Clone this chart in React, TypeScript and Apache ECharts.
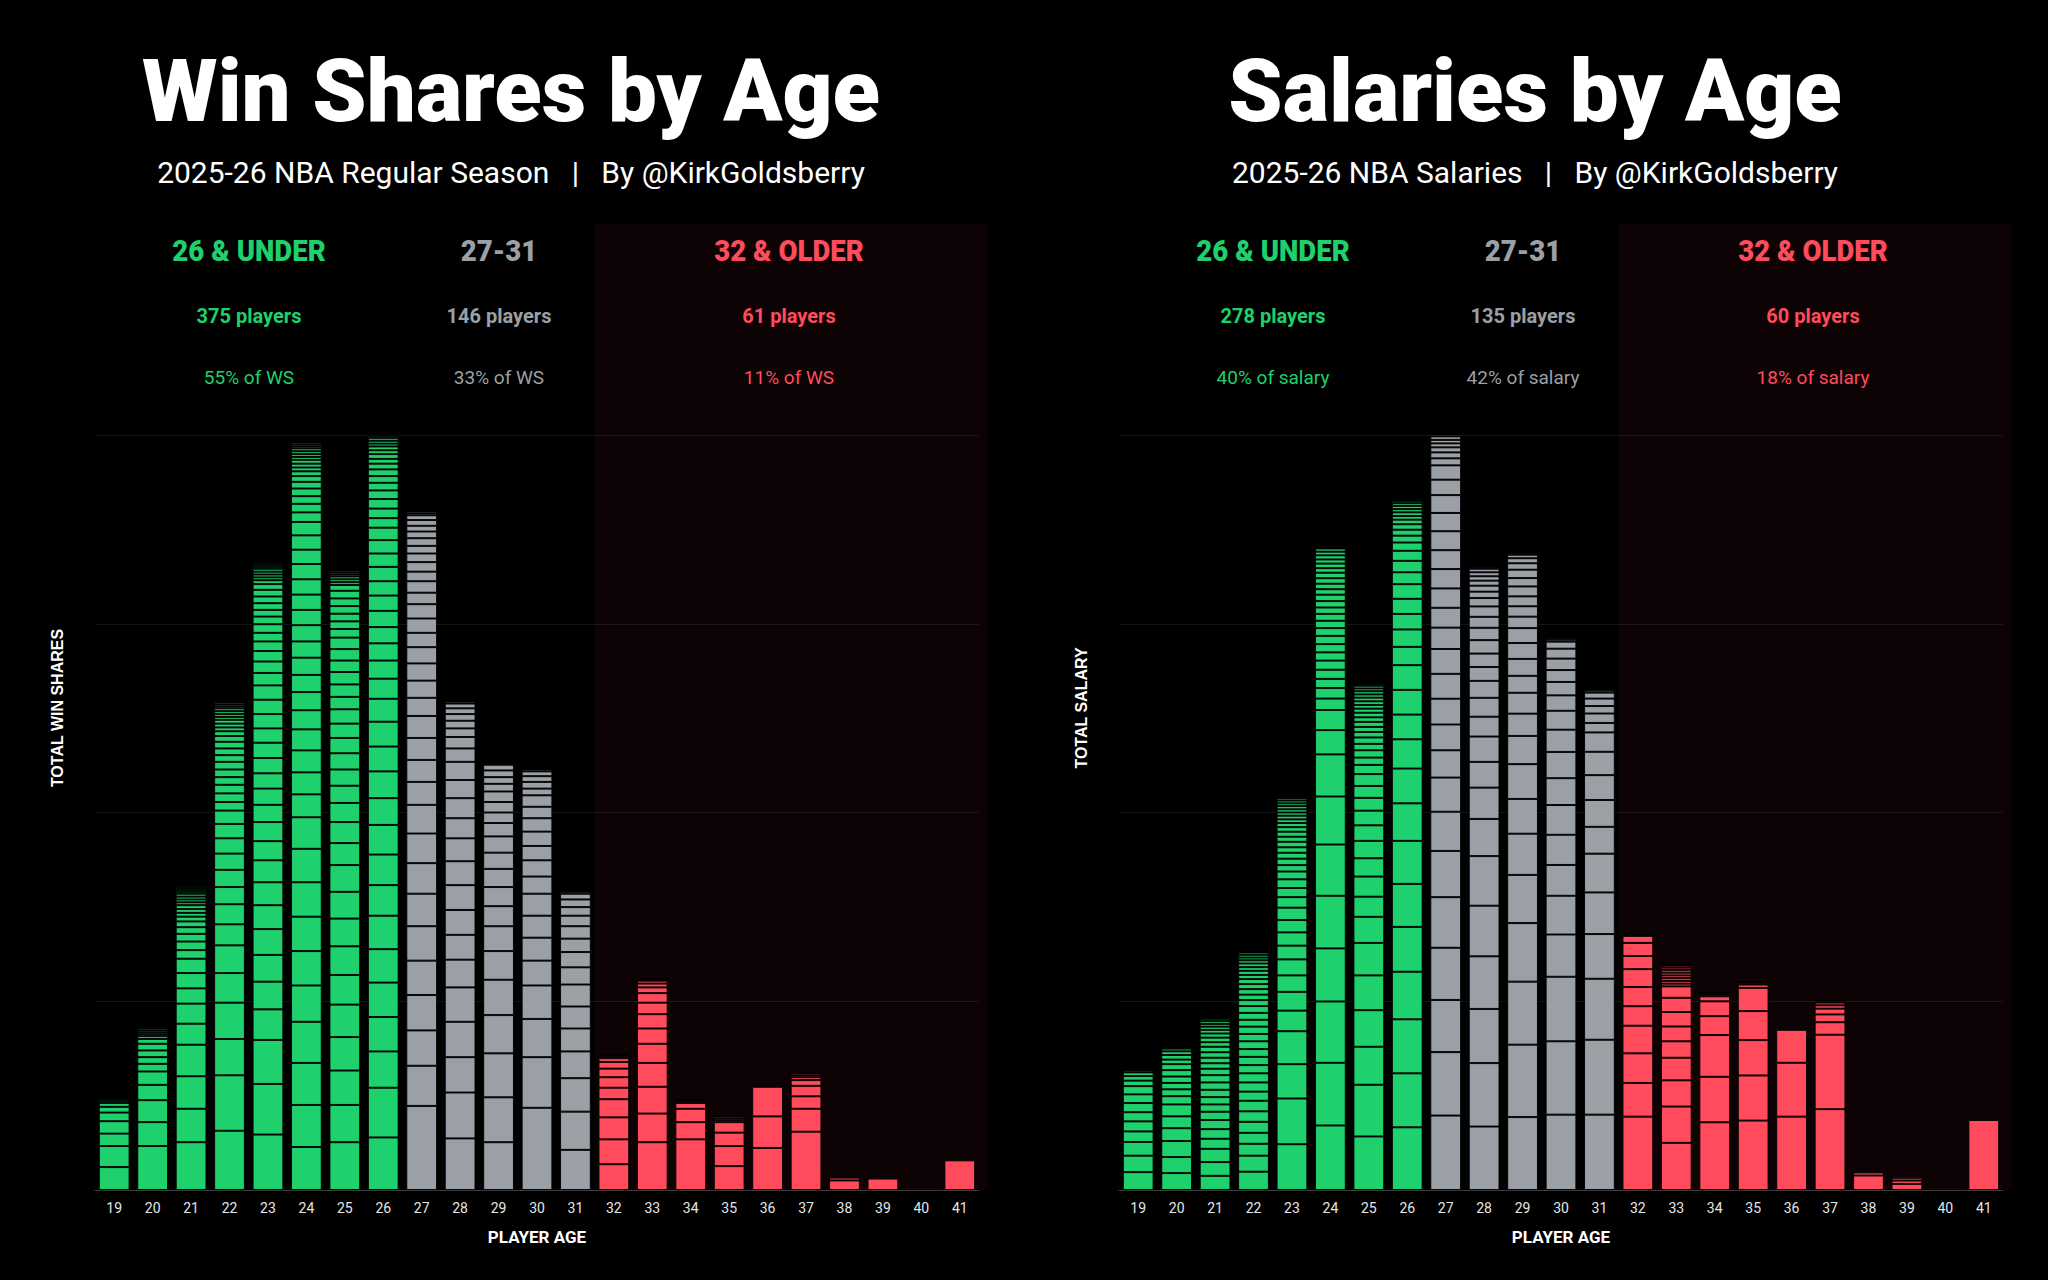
import React, { useEffect, useRef } from 'react';
import * as echarts from 'echarts';

const ages = ['19', '20', '21', '22', '23', '24', '25', '26', '27', '28', '29', '30', '31', '32', '33', '34', '35', '36', '37', '38', '39', '40', '41'];

// win shares of each player, by age, largest first
const ws19 = [2.4, 2.2, 1.3, 1.3, 0.9, 0.6, 0.4, 0.2, 0.2, 0.1, 0.1];
const ws20 = [4.6, 2.5, 2.3, 1.6, 1.4, 0.8, 0.7, 0.7, 0.7, 0.5, 0.3, 0.2, 0.2, 0.2, 0.2, 0.1, 0.1, 0.1];
const ws21 = [5.0, 3.5, 3.4, 3.3, 2.2, 2.1, 1.6, 1.6, 1.5, 0.9, 0.9, 0.8, 0.7, 0.6, 0.5, 0.4, 0.4, 0.4, 0.3, 0.3, 0.3, 0.3, 0.2, 0.2, 0.2, 0.2, 0.1, 0.1, 0.1];
const ws22 = [6.2, 5.8, 3.8, 3.8, 3.1, 2.9, 2.2, 2.1, 1.8, 1.8, 1.7, 1.6, 1.5, 1.4, 0.9, 0.9, 0.9, 0.8, 0.8, 0.8, 0.7, 0.7, 0.7, 0.6, 0.5, 0.4, 0.4, 0.4, 0.3, 0.3, 0.3, 0.3, 0.2, 0.2, 0.2, 0.1, 0.1, 0.1];
const ws23 = [5.8, 5.3, 4.6, 3.2, 2.9, 2.8, 2.7, 2.5, 2.4, 2.3, 2.0, 2.0, 1.8, 1.7, 1.6, 1.6, 1.6, 1.5, 1.5, 1.5, 1.5, 1.3, 1.2, 1.1, 1.0, 0.9, 0.9, 0.8, 0.7, 0.7, 0.7, 0.7, 0.6, 0.4, 0.3, 0.3, 0.3, 0.3, 0.2, 0.2, 0.2, 0.1, 0.1, 0.1];
const ws24 = [4.5, 4.4, 4.4, 4.3, 3.8, 3.6, 3.6, 3.6, 3.5, 3.3, 2.4, 2.3, 2.3, 2.2, 2.0, 1.9, 1.8, 1.8, 1.7, 1.7, 1.6, 1.6, 1.6, 1.6, 1.5, 1.5, 1.4, 1.0, 0.9, 0.8, 0.8, 0.7, 0.6, 0.5, 0.4, 0.4, 0.4, 0.3, 0.3, 0.3, 0.3, 0.2, 0.2, 0.2, 0.1, 0.1, 0.1];
const ws25 = [5.0, 3.9, 3.6, 3.5, 3.4, 3.1, 3.0, 2.9, 2.8, 2.8, 2.3, 2.2, 2.0, 1.8, 1.7, 1.7, 1.6, 1.5, 1.5, 1.3, 1.3, 1.3, 1.2, 1.2, 1.2, 0.9, 0.8, 0.8, 0.8, 0.8, 0.8, 0.6, 0.3, 0.3, 0.3, 0.2, 0.2, 0.2, 0.1, 0.1, 0.1, 0.1];
const ws26 = [5.5, 5.2, 3.8, 3.6, 3.6, 3.5, 3.5, 3.2, 3.2, 3.1, 2.8, 2.8, 2.6, 2.6, 2.4, 2.1, 1.9, 1.8, 1.7, 1.7, 1.6, 1.5, 1.5, 1.4, 1.4, 1.3, 1.0, 1.0, 1.0, 0.9, 0.8, 0.7, 0.7, 0.6, 0.5, 0.5, 0.4, 0.4, 0.3, 0.3, 0.3, 0.2, 0.2, 0.2, 0.1, 0.1, 0.1];
const ws27 = [8.8, 4.2, 3.7, 3.7, 3.6, 3.6, 3.4, 3.2, 3.1, 3.0, 2.4, 2.3, 2.3, 2.3, 1.9, 1.8, 1.8, 1.7, 1.5, 1.5, 1.5, 1.2, 1.2, 1.0, 1.0, 0.9, 0.8, 0.8, 0.7, 0.6, 0.6, 0.5, 0.2, 0.2, 0.1, 0.1, 0.1, 0.1, 0.1];
const ws28 = [5.4, 4.8, 3.7, 3.7, 3.6, 2.9, 2.6, 2.6, 2.6, 2.5, 2.4, 2.1, 2.1, 1.9, 1.9, 1.4, 1.2, 0.9, 0.8, 0.7, 0.6, 0.5, 0.2, 0.1, 0.1, 0.1, 0.1];
const ws29 = [5.0, 4.7, 4.6, 4.0, 3.7, 3.0, 2.6, 2.1, 2.0, 1.9, 1.7, 1.7, 1.4, 1.1, 1.1, 1.1, 0.8, 0.7, 0.7, 0.6, 0.1, 0.1, 0.1, 0.1];
const ws30 = [8.6, 5.3, 4.0, 3.5, 2.6, 2.4, 2.3, 2.3, 1.8, 1.7, 1.5, 1.5, 1.4, 1.2, 1.2, 0.7, 0.7, 0.6, 0.5, 0.2, 0.1, 0.1, 0.1];
const ws31 = [4.2, 4.0, 3.5, 2.8, 2.4, 2.3, 2.3, 1.8, 1.6, 1.4, 1.3, 1.1, 0.9, 0.8, 0.6, 0.2, 0.1, 0.1, 0.1, 0.1];
const ws32 = [2.7, 2.6, 2.3, 1.9, 1.2, 1.1, 0.9, 0.7, 0.4, 0.2, 0.1, 0.1];
const ws33 = [5.0, 3.0, 2.8, 2.5, 2.0, 1.6, 1.5, 1.2, 1.0, 0.6, 0.4, 0.3, 0.1, 0.1];
const ws34 = [5.3, 1.8, 1.4, 0.6, 0.2, 0.1, 0.1];
const ws35 = [2.5, 2.1, 1.4, 1.1, 0.2, 0.2, 0.2, 0.1];
const ws36 = [4.4, 3.3, 3.1];
const ws37 = [6.1, 2.4, 1.3, 1.1, 0.6, 0.3, 0.2, 0.2];
const ws38 = [1.0, 0.3];
const ws39 = [1.2];
const ws40 = [0.2];
const ws41 = [3.1];

// salaries of each player ($M), by age, largest first
const sal19 = [11.7, 10.8, 9.0, 6.9, 6.6, 6.0, 6.0, 5.7, 5.4, 3.6, 3.0, 2.4, 1.2, 0.9, 0.6];
const sal20 = [11.1, 10.5, 10.5, 8.4, 7.8, 7.8, 5.4, 4.5, 4.2, 4.2, 4.2, 3.9, 3.0, 3.0, 2.4, 1.8, 0.9, 0.6, 0.6];
const sal21 = [9.3, 9.0, 8.7, 6.6, 6.3, 6.0, 5.4, 4.8, 4.8, 4.8, 4.8, 4.8, 4.2, 3.6, 3.6, 3.6, 3.6, 3.0, 3.0, 2.7, 2.4, 2.1, 1.8, 1.8, 1.5, 0.9, 0.6, 0.3];
const sal22 = [12.0, 10.5, 7.8, 7.2, 7.2, 6.9, 6.9, 6.0, 6.0, 6.0, 5.4, 5.4, 5.1, 5.1, 4.8, 4.8, 4.5, 4.5, 4.5, 3.9, 3.6, 3.6, 3.3, 3.3, 2.7, 2.7, 2.4, 2.4, 2.1, 1.8, 1.8, 1.5, 0.9, 0.6, 0.3];
const sal23 = [30.0, 30.0, 22.5, 21.6, 13.5, 12.3, 10.8, 10.5, 9.0, 8.7, 8.1, 8.1, 6.9, 6.0, 5.7, 5.1, 4.2, 4.2, 3.9, 3.6, 3.6, 3.3, 3.3, 3.0, 2.7, 2.4, 2.4, 2.1, 2.1, 2.1, 1.8, 1.8, 1.5, 0.9, 0.6, 0.6, 0.3, 0.3];
const sal24 = [42.3, 41.1, 40.2, 34.8, 34.5, 33.6, 31.5, 27.6, 15.9, 13.2, 7.5, 6.9, 6.0, 6.0, 6.0, 5.4, 5.4, 5.4, 5.1, 4.8, 4.5, 4.2, 4.2, 4.2, 3.6, 3.6, 3.6, 3.6, 3.0, 3.0, 2.7, 2.7, 2.4, 2.1, 0.9, 0.6, 0.6, 0.3, 0.3, 0.3];
const sal25 = [35.1, 33.9, 24.9, 24.0, 22.8, 21.3, 17.1, 13.2, 13.2, 12.0, 11.4, 10.2, 9.6, 8.4, 7.8, 7.8, 6.0, 4.8, 4.8, 4.2, 4.2, 3.6, 3.3, 3.3, 3.0, 3.0, 2.7, 2.4, 2.4, 2.4, 2.1, 2.1, 1.8, 1.8, 0.9, 0.6, 0.6, 0.3];
const sal26 = [41.1, 35.4, 35.4, 31.2, 29.4, 28.2, 28.2, 24.6, 22.8, 19.2, 16.2, 16.2, 16.2, 12.0, 11.4, 10.2, 9.9, 9.6, 7.8, 7.5, 6.6, 5.4, 4.5, 3.9, 3.6, 3.0, 2.4, 2.4, 2.1, 2.1, 1.8, 1.5, 0.9, 0.6, 0.3, 0.3];
const sal27 = [48.8, 41.6, 34.2, 34.2, 33.2, 30.3, 25.7, 22.4, 17.9, 16.9, 16.9, 16.3, 16.3, 14.0, 13.0, 12.7, 12.7, 12.4, 12.4, 12.0, 11.7, 10.1, 9.4, 4.6, 3.9, 3.3, 2.6, 2.3, 2.3, 2.0, 1.6, 1.0, 0.7, 0.3];
const sal28 = [41.6, 41.6, 35.5, 34.5, 33.2, 32.5, 24.4, 20.5, 16.9, 16.6, 13.0, 12.4, 11.1, 9.1, 8.8, 8.8, 8.1, 7.2, 6.8, 5.5, 4.2, 3.9, 3.3, 2.9, 2.6, 2.3, 1.0, 0.7, 0.7, 0.3];
const sal29 = [47.8, 47.5, 41.3, 38.4, 31.6, 27.0, 22.8, 22.8, 18.5, 14.6, 13.7, 11.1, 11.1, 10.4, 9.8, 7.5, 6.8, 6.5, 6.5, 5.5, 5.5, 4.2, 3.3, 2.3, 1.0, 0.7, 0.7, 0.3];
const sal30 = [49.4, 48.1, 42.3, 27.7, 25.4, 20.2, 19.8, 19.5, 17.6, 17.2, 14.6, 12.4, 10.1, 8.8, 7.8, 7.5, 6.5, 4.6, 1.3, 1.0, 0.7, 0.3, 0.3];
const sal31 = [49.4, 49.1, 40.0, 29.3, 27.3, 25.4, 17.6, 17.6, 16.3, 15.3, 12.7, 6.2, 6.2, 4.9, 4.9, 3.9, 1.3, 1.0, 0.7, 0.3];
const sal32 = [48.1, 22.1, 19.4, 18.1, 12.8, 12.6, 11.7, 8.6, 8.6, 4.6, 0.9, 0.4];
const sal33 = [30.9, 23.8, 17.2, 14.8, 10.8, 9.7, 9.5, 9.3, 7.5, 1.8, 1.8, 1.8, 1.8, 1.8, 1.8, 1.5, 1.3, 0.7, 0.4];
const sal34 = [44.4, 29.8, 27.4, 12.4, 9.7, 3.3, 1.1, 0.7, 0.7];
const sal35 = [45.5, 29.6, 23.2, 19.0, 15.2, 2.2, 1.1, 0.7];
const sal36 = [48.1, 35.3, 21.6];
const sal37 = [53.0, 48.8, 8.2, 5.1, 3.8, 2.2, 1.8, 1.1, 0.7];
const sal38 = [9.5, 2.0];
const sal39 = [4.0, 2.2, 1.8, 1.1, 1.1];
const sal40 = [1.1];
const sal41 = [45.9];

const wsByAge = [ws19, ws20, ws21, ws22, ws23, ws24, ws25, ws26, ws27, ws28, ws29, ws30, ws31, ws32, ws33, ws34, ws35, ws36, ws37, ws38, ws39, ws40, ws41];
const salByAge = [sal19, sal20, sal21, sal22, sal23, sal24, sal25, sal26, sal27, sal28, sal29, sal30, sal31, sal32, sal33, sal34, sal35, sal36, sal37, sal38, sal39, sal40, sal41];

const groupNames = ['26 & UNDER', '27-31', '32 & OLDER'];
const wsPlayers = [375, 146, 61];
const wsShare = [55, 33, 11];
const salPlayers = [278, 135, 60];
const salShare = [40, 42, 18];

// four equal bands up to the top gridline
const wsMax = 79;
const wsStep = 19.75;
const salMax = 495;
const salStep = 123.75;

const GREEN = '#1fd16c';
const GRAY = '#9aa0a6';
const RED = '#ff4b5c';
const groupColors = [GREEN, GRAY, RED];

const ageColor = (i: number) => {
  const a = Number(ages[i]);
  if (a <= 26) return GREEN;
  if (a <= 31) return GRAY;
  return RED;
};

// one series per rank, so each player is one segment of the stack
const stackSeries = (players: number[][], stack: string, idx: number) => {
  const depth = Math.max(...players.map((p) => p.length));
  const out: any[] = [];
  for (let k = 0; k < depth; k++) {
    out.push({
      type: 'bar',
      stack,
      xAxisIndex: idx,
      yAxisIndex: idx,
      barWidth: '80%',
      silent: true,
      data: players.map((p) => (k < p.length ? p[k] : '-')),
      itemStyle: {
        color: (params: any) => ageColor(params.dataIndex),
        borderColor: 'rgba(0,0,0,0.9)',
        borderWidth: 1,
      },
    });
  }
  return out;
};

const txt = (x: number, y: number, text: string, fill: string, font: string, extra: any = {}) => ({
  type: 'text',
  x,
  y,
  z: 100,
  ...extra,
  style: {
    text,
    fill,
    font,
    align: 'center',
    verticalAlign: 'middle',
    textAlign: 'center',
    textVerticalAlign: 'middle',
  },
});

const headerX = [249, 499, 789];

const panelGraphics = (off: number, title: string, subtitle: string, players: number[], share: number[], unit: string, yName: string) => {
  const els: any[] = [
    { type: 'rect', z: -10, shape: { x: off + 595, y: 224, width: 393, height: 966 }, style: { fill: '#0e0304' } },
    txt(off + 511, 91, title, '#fff', '900 87px Roboto'),
    txt(off + 511, 172, subtitle, '#fff', '400 30px Roboto'),
    txt(off + 57, 708, yName, '#fff', 'bold 16px "Liberation Sans"', { rotation: Math.PI / 2 }),
  ];
  groupNames.forEach((g, i) => {
    els.push(txt(off + headerX[i], 251, g, groupColors[i], '900 30px Roboto', { scaleX: 0.92 }));
    els.push(txt(off + headerX[i], 316, `${players[i]} players`, groupColors[i], 'bold 20px Roboto'));
    els.push(txt(off + headerX[i], 377, `${share[i]}% of ${unit}`, groupColors[i], '400 19px Roboto'));
  });
  return els;
};

const xAxisFor = (gridIndex: number) => ({
  type: 'category',
  gridIndex,
  data: ages,
  axisLine: { lineStyle: { color: '#3a3a3a' } },
  axisTick: { show: false },
  axisLabel: { color: '#e6e6e6', fontSize: 14, fontFamily: 'Roboto', margin: 11 },
  name: 'PLAYER AGE',
  nameLocation: 'middle',
  nameGap: 38,
  nameTextStyle: { color: '#fff', fontWeight: 'bold', fontSize: 17, fontFamily: 'Roboto' },
});

const yAxisFor = (gridIndex: number, max: number, interval: number) => ({
  type: 'value',
  gridIndex,
  min: 0,
  max,
  interval,
  axisLabel: { show: false },
  axisLine: { show: false },
  axisTick: { show: false },
  splitLine: { lineStyle: { color: 'rgba(255,255,255,0.08)', width: 1 } },
});

const App: React.FC = () => {
  const chartRef = useRef<HTMLDivElement | null>(null);

  useEffect(() => {
    if (!chartRef.current) return;
    const chart = echarts.init(chartRef.current, undefined, { renderer: 'svg' });

    const option: any = {
      animation: false,
      backgroundColor: '#000',
      grid: [
        { left: 95, top: 435, width: 884, bottom: 90 },
        { left: 1119, top: 435, width: 884, bottom: 90 },
      ],
      xAxis: [xAxisFor(0), xAxisFor(1)],
      yAxis: [yAxisFor(0, wsMax, wsStep), yAxisFor(1, salMax, salStep)],
      series: [...stackSeries(wsByAge, 'ws', 0), ...stackSeries(salByAge, 'sal', 1)],
      graphic: {
        elements: [
          ...panelGraphics(0, 'Win Shares by Age', '2025-26 NBA Regular Season   |   By @KirkGoldsberry', wsPlayers, wsShare, 'WS', 'TOTAL WIN SHARES'),
          ...panelGraphics(1024, 'Salaries by Age', '2025-26 NBA Salaries   |   By @KirkGoldsberry', salPlayers, salShare, 'salary', 'TOTAL SALARY'),
        ],
      },
    };

    chart.setOption(option);

    return () => {
      chart.dispose();
    };
  }, []);

  return (
    <div
      ref={chartRef}
      style={{ position: 'fixed', left: 0, top: 0, width: '2048px', height: '1280px', background: '#000' }}
    />
  );
};

export default App;
